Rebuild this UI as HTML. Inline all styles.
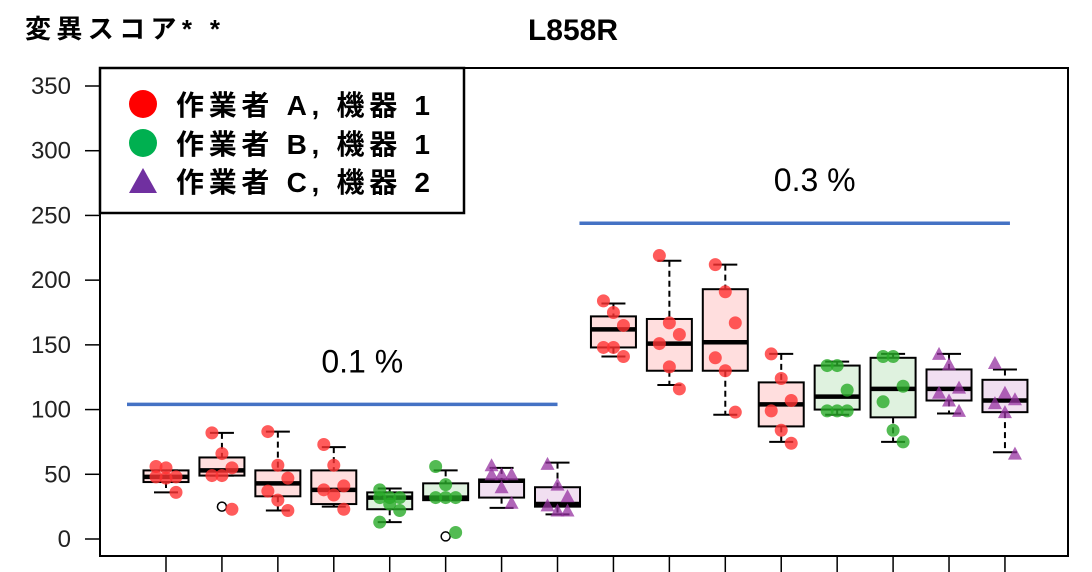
<!DOCTYPE html>
<html><head><meta charset="utf-8"><style>
body{margin:0;background:#fff;}
svg{display:block;font-family:"Liberation Sans","Noto Sans CJK JP",sans-serif;}
</style></head><body>
<svg id="chart" width="1092" height="572" viewBox="0 0 1092 572">
<text x="25" y="38" font-size="26" font-weight="bold" textLength="195" lengthAdjust="spacing">変異スコア* *</text>
<text x="573" y="40" font-size="30" font-weight="bold" text-anchor="middle">L858R</text>
<rect x="100" y="68" width="968" height="488" fill="none" stroke="#000" stroke-width="2"/>
<g id="yaxis"></g>
<g id="xaxis"></g>
<g id="groups"></g>
<g id="boxes"></g>
<g>
<rect x="100" y="68" width="364" height="145" fill="#fff" stroke="#000" stroke-width="2.5"/>
<g><circle cx="143" cy="104" r="14" fill="#ff0000"/><text x="176" y="115" font-size="28" font-weight="bold" textLength="254" lengthAdjust="spacing">作業者 A,  機器 1</text></g>
<g><circle cx="143" cy="143" r="14" fill="#00b050"/><text x="176" y="154" font-size="28" font-weight="bold" textLength="254" lengthAdjust="spacing">作業者 B,  機器 1</text></g>
<g><polygon points="129,193 143,168 157,193" fill="#7030a0"/><text x="176" y="192" font-size="28" font-weight="bold" textLength="254" lengthAdjust="spacing">作業者 C,  機器 2</text></g>
</g>
</svg>
<script>
const yTicks=[0,50,100,150,200,250,300,350];
const groupTypes=['A','A','A','A','B','B','C','C','A','A','A','A','B','B','C','C'];
const q1s=[44,49,33,27,23,30,32,25,148,130,130,87,100,94,107,98];
const medians=[48,53,43,38,32,32,45,27,162,151,152,104,110,116,116,107];
const q3s=[53,63,53,53,36,43,46,40,172,170,193,121,134,140,131,123];
const whiskLo=[36,49,22,25,13,30,24,19,141,119,96,75,96,75,97,67];
const whiskHi=[53,82,83,71,39,53,55,59,182,215,212,143,137,143,143,131];
const outliers=[[],[25],[],[],[],[2],[],[]];
const points=[[56,55,48,48,47,36],[82,66,55,49,49,23],[83,57,47,37,30,22],[73,57,41,38,34,23],[38,32,32,32,27,22,13],[56,42,32,32,32,5],[57,50,50,50,40,28],[58,42,33,26,22,22],
[184,175,165,148,148,141],[219,167,158,151,133,116],[212,191,167,140,130,98],[143,124,107,99,84,74],[134,134,115,99,99,99],[141,141,118,106,84,75],[143,135,117,113,107,99],[136,113,108,105,98,66]];
const groupLabels=['0.1 %','0.3 %'];
const groupLevels=[104,244];

const NS='http://www.w3.org/2000/svg';
const y=v=>539-v*(453/350);
const x=i=>166+i*55.93;
function mk(tag,attrs,parent){const e=document.createElementNS(NS,tag);for(const k in attrs)e.setAttribute(k,attrs[k]);parent.appendChild(e);return e;}
const ya=document.getElementById('yaxis');
yTicks.forEach(t=>{
 const l=mk('line',{x1:85,x2:100,y1:y(t),y2:y(t),stroke:'#000','stroke-width':1.5},ya);
 
 
 const tx=mk('text',{x:71,y:y(t)+8,'font-size':24,'text-anchor':'end',fill:'#222'},ya);
 tx.textContent=t;
 
 
});
const xa=document.getElementById('xaxis');
groupTypes.forEach((g,i)=>{
 const l=mk('line',{x1:x(i),x2:x(i),y1:556,y2:572,stroke:'#000','stroke-width':1.5},xa);
 
 
});
const gg=document.getElementById('groups');
groupLabels.forEach((lab,k)=>{
 const x1=x(k*8)-39+(k?5:0),x2=x(k*8+7)+(k?5:0);
 const l=mk('line',{x1:x1,x2:x2,y1:y(groupLevels[k]),y2:y(groupLevels[k]),stroke:'#4472c4','stroke-width':3.5},gg);
 
 
 const t=mk('text',{x:(x1+x2)/2+20,y:y(groupLevels[k])-32,'font-size':32,'text-anchor':'middle'},gg);
 t.textContent=lab;
 
 
});
const fills={A:'#ffdede',B:'#dff2df',C:'#f1dff1'};
const pcol={A:'rgba(255,50,50,0.8)',B:'rgba(40,170,40,0.8)',C:'rgba(150,50,160,0.75)'};
const bg=document.getElementById('boxes');
groupTypes.forEach((g,i)=>{
 const cx=x(i),hw=22.5;
 const grp=mk('g',{},bg);
 
 
 mk('line',{x1:cx,x2:cx,y1:y(whiskHi[i]),y2:y(q3s[i]),stroke:'#000','stroke-width':2,'stroke-dasharray':'6,4'},grp);
 mk('line',{x1:cx,x2:cx,y1:y(q1s[i]),y2:y(whiskLo[i]),stroke:'#000','stroke-width':2,'stroke-dasharray':'6,4'},grp);
 mk('line',{x1:cx-12,x2:cx+12,y1:y(whiskHi[i]),y2:y(whiskHi[i]),stroke:'#000','stroke-width':2},grp);
 mk('line',{x1:cx-12,x2:cx+12,y1:y(whiskLo[i]),y2:y(whiskLo[i]),stroke:'#000','stroke-width':2},grp);
 mk('rect',{x:cx-hw,y:y(q3s[i]),width:hw*2,height:y(q1s[i])-y(q3s[i]),fill:fills[g],stroke:'#000','stroke-width':2},grp);
 mk('line',{x1:cx-hw,x2:cx+hw,y1:y(medians[i]),y2:y(medians[i]),stroke:'#000','stroke-width':4.5},grp);
 (outliers[i]||[]).forEach(o=>{mk('circle',{cx:cx,cy:y(o),r:4.5,fill:'none',stroke:'#000','stroke-width':1.5},grp);});
 points[i].forEach((v,j)=>{
  const px=cx+((j%3)-1)*10,py=y(v);
  let m;
  if(g==='C') m=mk('polygon',{points:`${px-7},${py+6} ${px},${py-7} ${px+7},${py+6}`,fill:pcol[g]},grp);
  else m=mk('circle',{cx:px,cy:py,r:6.5,fill:pcol[g]},grp);
  
  
 });
});
</script>
</body></html>
